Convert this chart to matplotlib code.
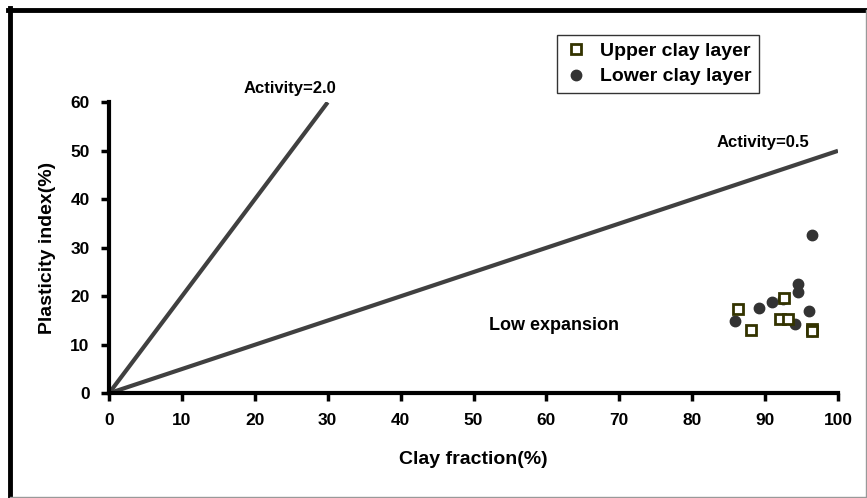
import matplotlib
matplotlib.use("Agg")
import matplotlib.pyplot as plt
from matplotlib.lines import Line2D

plt.rcParams['font.family'] = ['Liberation Sans', 'DejaVu Sans']
plt.rcParams['font.weight'] = 'bold'

upper_x = [86.3, 88.0, 92.6, 92.1, 93.2, 96.4, 96.4]
upper_y = [17.4, 13.1, 19.7, 15.3, 15.3, 13.2, 12.8]
lower_x = [96.5, 94.5, 94.5, 92.5, 91.0, 89.2, 85.9, 96.0, 94.1, 96.4]
lower_y = [32.6, 22.5, 20.9, 19.4, 18.9, 17.6, 14.9, 17.0, 14.3, 12.9]

act2_x = [0, 30]
act2_y = [0, 60]
act05_x = [0, 100]
act05_y = [0, 50]

fig = plt.figure(figsize=(8.67, 4.98), dpi=100)
ax = fig.add_axes([109/867, (498-393.3)/498, 729/867, 291/498])

ax.plot(act2_x, act2_y, color='#404040', lw=3, solid_capstyle='butt', zorder=2)
ax.plot(act05_x, act05_y, color='#404040', lw=3, solid_capstyle='butt', zorder=2)
ax.plot(lower_x, lower_y, 'o', ms=7.5, color='#333333', mec='#333333', zorder=3,
        label='Lower clay layer')
ax.plot(upper_x, upper_y, 's', ms=6.5, mfc='white', mec='#333300', mew=2, zorder=4,
        label='Upper clay layer')

ax.set_xlim(0, 100)
ax.set_ylim(0, 60)
ax.set_xticks(range(0, 101, 10))
ax.set_yticks(range(0, 61, 10))
for s in ['top', 'right']:
    ax.spines[s].set_visible(False)
for s in ['left', 'bottom']:
    ax.spines[s].set_linewidth(3)
ax.tick_params(width=2.5, length=6, labelsize=12.5, pad=8)
for lab in ax.get_xticklabels() + ax.get_yticklabels():
    lab.set_fontweight('bold')
ax.set_xlabel('Clay fraction(%)', fontsize=14, fontweight='bold', labelpad=17)
ax.set_ylabel('Plasticity index(%)', fontsize=14, fontweight='bold', labelpad=10)

ax.text(24.8, 62.9, 'Activity=2.0', ha='center', va='center', fontsize=12,
        fontweight='bold', clip_on=False)
ax.text(89.7, 51.8, 'Activity=0.5', ha='center', va='center', fontsize=12,
        fontweight='bold', clip_on=False)
ax.text(61.0, 13.9, 'Low expansion', ha='center', va='center', fontsize=13,
        fontweight='bold')

h, l = ax.get_legend_handles_labels()
leg = fig.legend([h[1], h[0]], [l[1], l[0]], loc='upper left',
                 bbox_to_anchor=(547/867, 1-25/498), frameon=True, fancybox=False,
                 edgecolor='black', handlelength=1.2, handletextpad=0.6,
                 borderpad=0.4, labelspacing=0.4, prop={'weight': 'bold', 'size': 14})
leg.get_frame().set_linewidth(1)

# outer frame: thick black top/left, thin gray right/bottom
fig.add_artist(Line2D([10/867, 10/867], [1-497/498, 1-8/498], transform=fig.transFigure,
                      color='black', lw=3.5))
fig.add_artist(Line2D([8/867, 1], [1-10/498, 1-10/498], transform=fig.transFigure,
                      color='black', lw=3.5))
fig.add_artist(Line2D([866/867, 866/867], [0, 1-10/498], transform=fig.transFigure,
                      color='#999999', lw=1))
fig.add_artist(Line2D([10/867, 1], [1/498, 1/498], transform=fig.transFigure,
                      color='#999999', lw=1))

fig.savefig('out.png', dpi=100)
